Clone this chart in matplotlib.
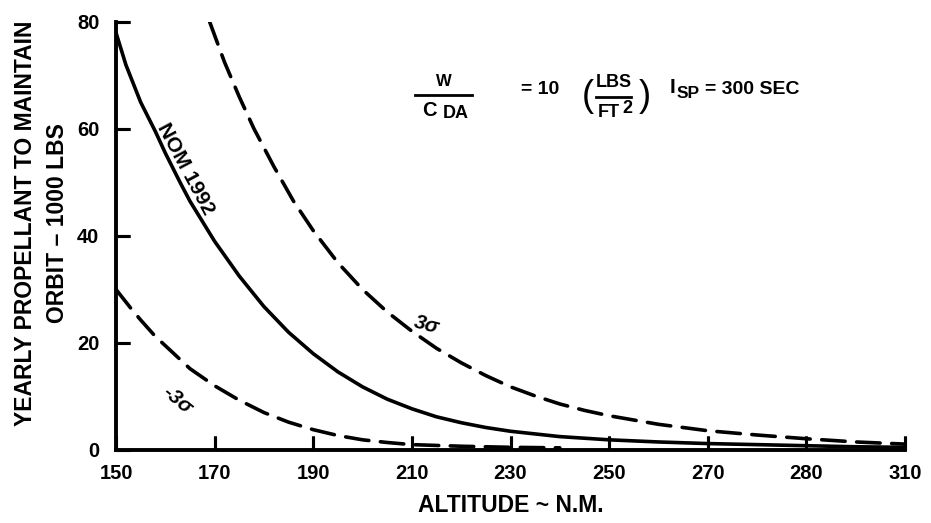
import matplotlib
matplotlib.use("Agg")
import matplotlib.pyplot as plt
from matplotlib.lines import Line2D
from matplotlib.markers import TICKUP, TICKRIGHT

# altitude (n.m.) and yearly propellant (1000 lbs)
alt_nom = [150, 152, 155, 158, 160, 163, 165, 168, 170, 175, 180, 185, 190, 195, 200, 205, 210, 215, 220, 225,
           230, 240, 250, 260, 270, 280, 290, 300, 310]
prop_nom = [78, 72, 65, 59.5, 55.5, 50, 46.5, 42, 39, 32.5, 26.8, 22, 18, 14.6, 11.8, 9.5, 7.7, 6.2, 5.1, 4.2,
            3.5, 2.5, 1.9, 1.5, 1.2, 1.0, 0.8, 0.6, 0.5]

alt_hi = [169, 172, 175, 178, 182, 186, 190, 195, 200, 205, 210, 215, 220, 225, 230, 235, 240, 245, 250,
          260, 270, 280, 290, 300, 310]
prop_hi = [80, 72.5, 66, 60, 53, 46.5, 41, 35, 30, 25.8, 22.2, 19, 16.3, 13.9, 11.8, 10.1, 8.6, 7.4, 6.4,
           4.8, 3.6, 2.8, 2.1, 1.5, 1.1]

alt_lo = [150, 153, 155, 158, 160, 165, 170, 175, 180, 185, 190, 195, 200, 205, 210, 220, 230, 240]
prop_lo = [30, 26.5, 24.3, 21.2, 19.5, 15.2, 12, 9.3, 7, 5.2, 3.8, 2.7, 1.9, 1.4, 1.0, 0.7, 0.5, 0.4]

xticks = [150, 170, 190, 210, 230, 250, 270, 290, 310]
xtick_labels = ["150", "170", "190", "210", "230", "250", "270", "280", "310"]
yticks = [0, 20, 40, 60, 80]

FONT = "Liberation Sans"

fig = plt.figure(figsize=(9.31, 5.23), dpi=100)
ax = fig.add_axes([0.1246, 0.1396, 0.8475, 0.8184])

ax.plot(alt_nom, prop_nom, color="black", lw=2.6, solid_capstyle="round", solid_joinstyle="round")
ax.plot(alt_hi, prop_hi, color="black", lw=2.6, dashes=(6.5, 3.2), dash_capstyle="round")
ax.plot(alt_lo, prop_lo, color="black", lw=2.6, dashes=(6.5, 3.2), dash_capstyle="round")

ax.set_xlim(150, 310)
ax.set_ylim(0, 80)
for s in ["top", "right"]:
    ax.spines[s].set_visible(False)
for s in ["left", "bottom"]:
    ax.spines[s].set_linewidth(2.8)

ax.set_xlabel("ALTITUDE ~ N.M.", fontfamily=FONT, fontweight="bold", fontsize=16.5, labelpad=8)
ax.set_ylabel("YEARLY PROPELLANT TO MAINTAIN\nORBIT \u2013 1000 LBS", fontfamily=FONT,
              fontweight="bold", fontsize=16.5, linespacing=1.5)
ax.yaxis.set_label_coords(-0.059, 0.53)

# curve labels
ax.text(164.2, 52.5, "NOM 1992", rotation=-62, ha="center", va="center",
        fontfamily=FONT, fontweight="bold", fontsize=15)
ax.text(213, 23.4, "3\u03c3", rotation=-15, ha="center", va="center",
        fontfamily=FONT, fontweight="bold", fontsize=15, style="italic")
ax.text(162.4, 9.3, "-3\u03c3", rotation=-40, ha="center", va="center",
        fontfamily=FONT, fontweight="bold", fontsize=15, style="italic")

# W / CDA = 10 (LBS / FT2)  ISP = 300 SEC
tk = dict(transform=ax.transAxes, fontfamily=FONT, fontweight="bold", ha="center", va="center")
ax.text(0.416, 0.862, "W", fontsize=12, **tk)
ax.add_artist(Line2D([0.379, 0.451], [0.829, 0.829], transform=ax.transAxes, color="black", lw=2))
ax.text(0.397, 0.792, "C", fontsize=14.5, **tk)
ax.text(0.431, 0.786, "DA", fontsize=13, **tk)
ax.text(0.537, 0.843, "= 10", fontsize=14, **tk)
ax.text(0.598, 0.826, "(", fontsize=26, transform=ax.transAxes, fontfamily=FONT, ha="center", va="center")
ax.text(0.631, 0.858, "LBS", fontsize=13, **tk)
ax.add_artist(Line2D([0.608, 0.653], [0.824, 0.824], transform=ax.transAxes, color="black", lw=2))
ax.text(0.625, 0.788, "FT", fontsize=13, **tk)
ax.text(0.648, 0.798, "2", fontsize=13, **tk)
ax.text(0.670, 0.826, ")", fontsize=26, transform=ax.transAxes, fontfamily=FONT, ha="center", va="center")
ax.text(0.705, 0.846, "I", fontsize=15, **tk)
ax.text(0.725, 0.832, "SP", fontsize=12.5, **tk)
ax.text(0.746, 0.843, "= 300 SEC", fontsize=14, transform=ax.transAxes, fontfamily=FONT,
        fontweight="bold", ha="left", va="center")

ax.set_xticks(xticks)
ax.set_xticklabels(xtick_labels)
ax.set_yticks(yticks)
ax.tick_params(axis="both", direction="in", length=10, width=2.2, color="black", labelsize=14.5)
ax.tick_params(axis="x", pad=10)
ax.tick_params(axis="y", pad=12)
for lab in ax.get_xticklabels() + ax.get_yticklabels():
    lab.set_fontfamily(FONT)
    lab.set_fontweight("bold")

# inward tick marks drawn as markers so they always show
ax.plot(xticks, [0] * len(xticks), ls="none", marker=TICKUP, ms=10, mew=2.2, color="black", clip_on=False)
ax.plot([150] * len(yticks), yticks, ls="none", marker=TICKRIGHT, ms=10, mew=2.2, color="black", clip_on=False)

fig.savefig("out.png", dpi=100)
